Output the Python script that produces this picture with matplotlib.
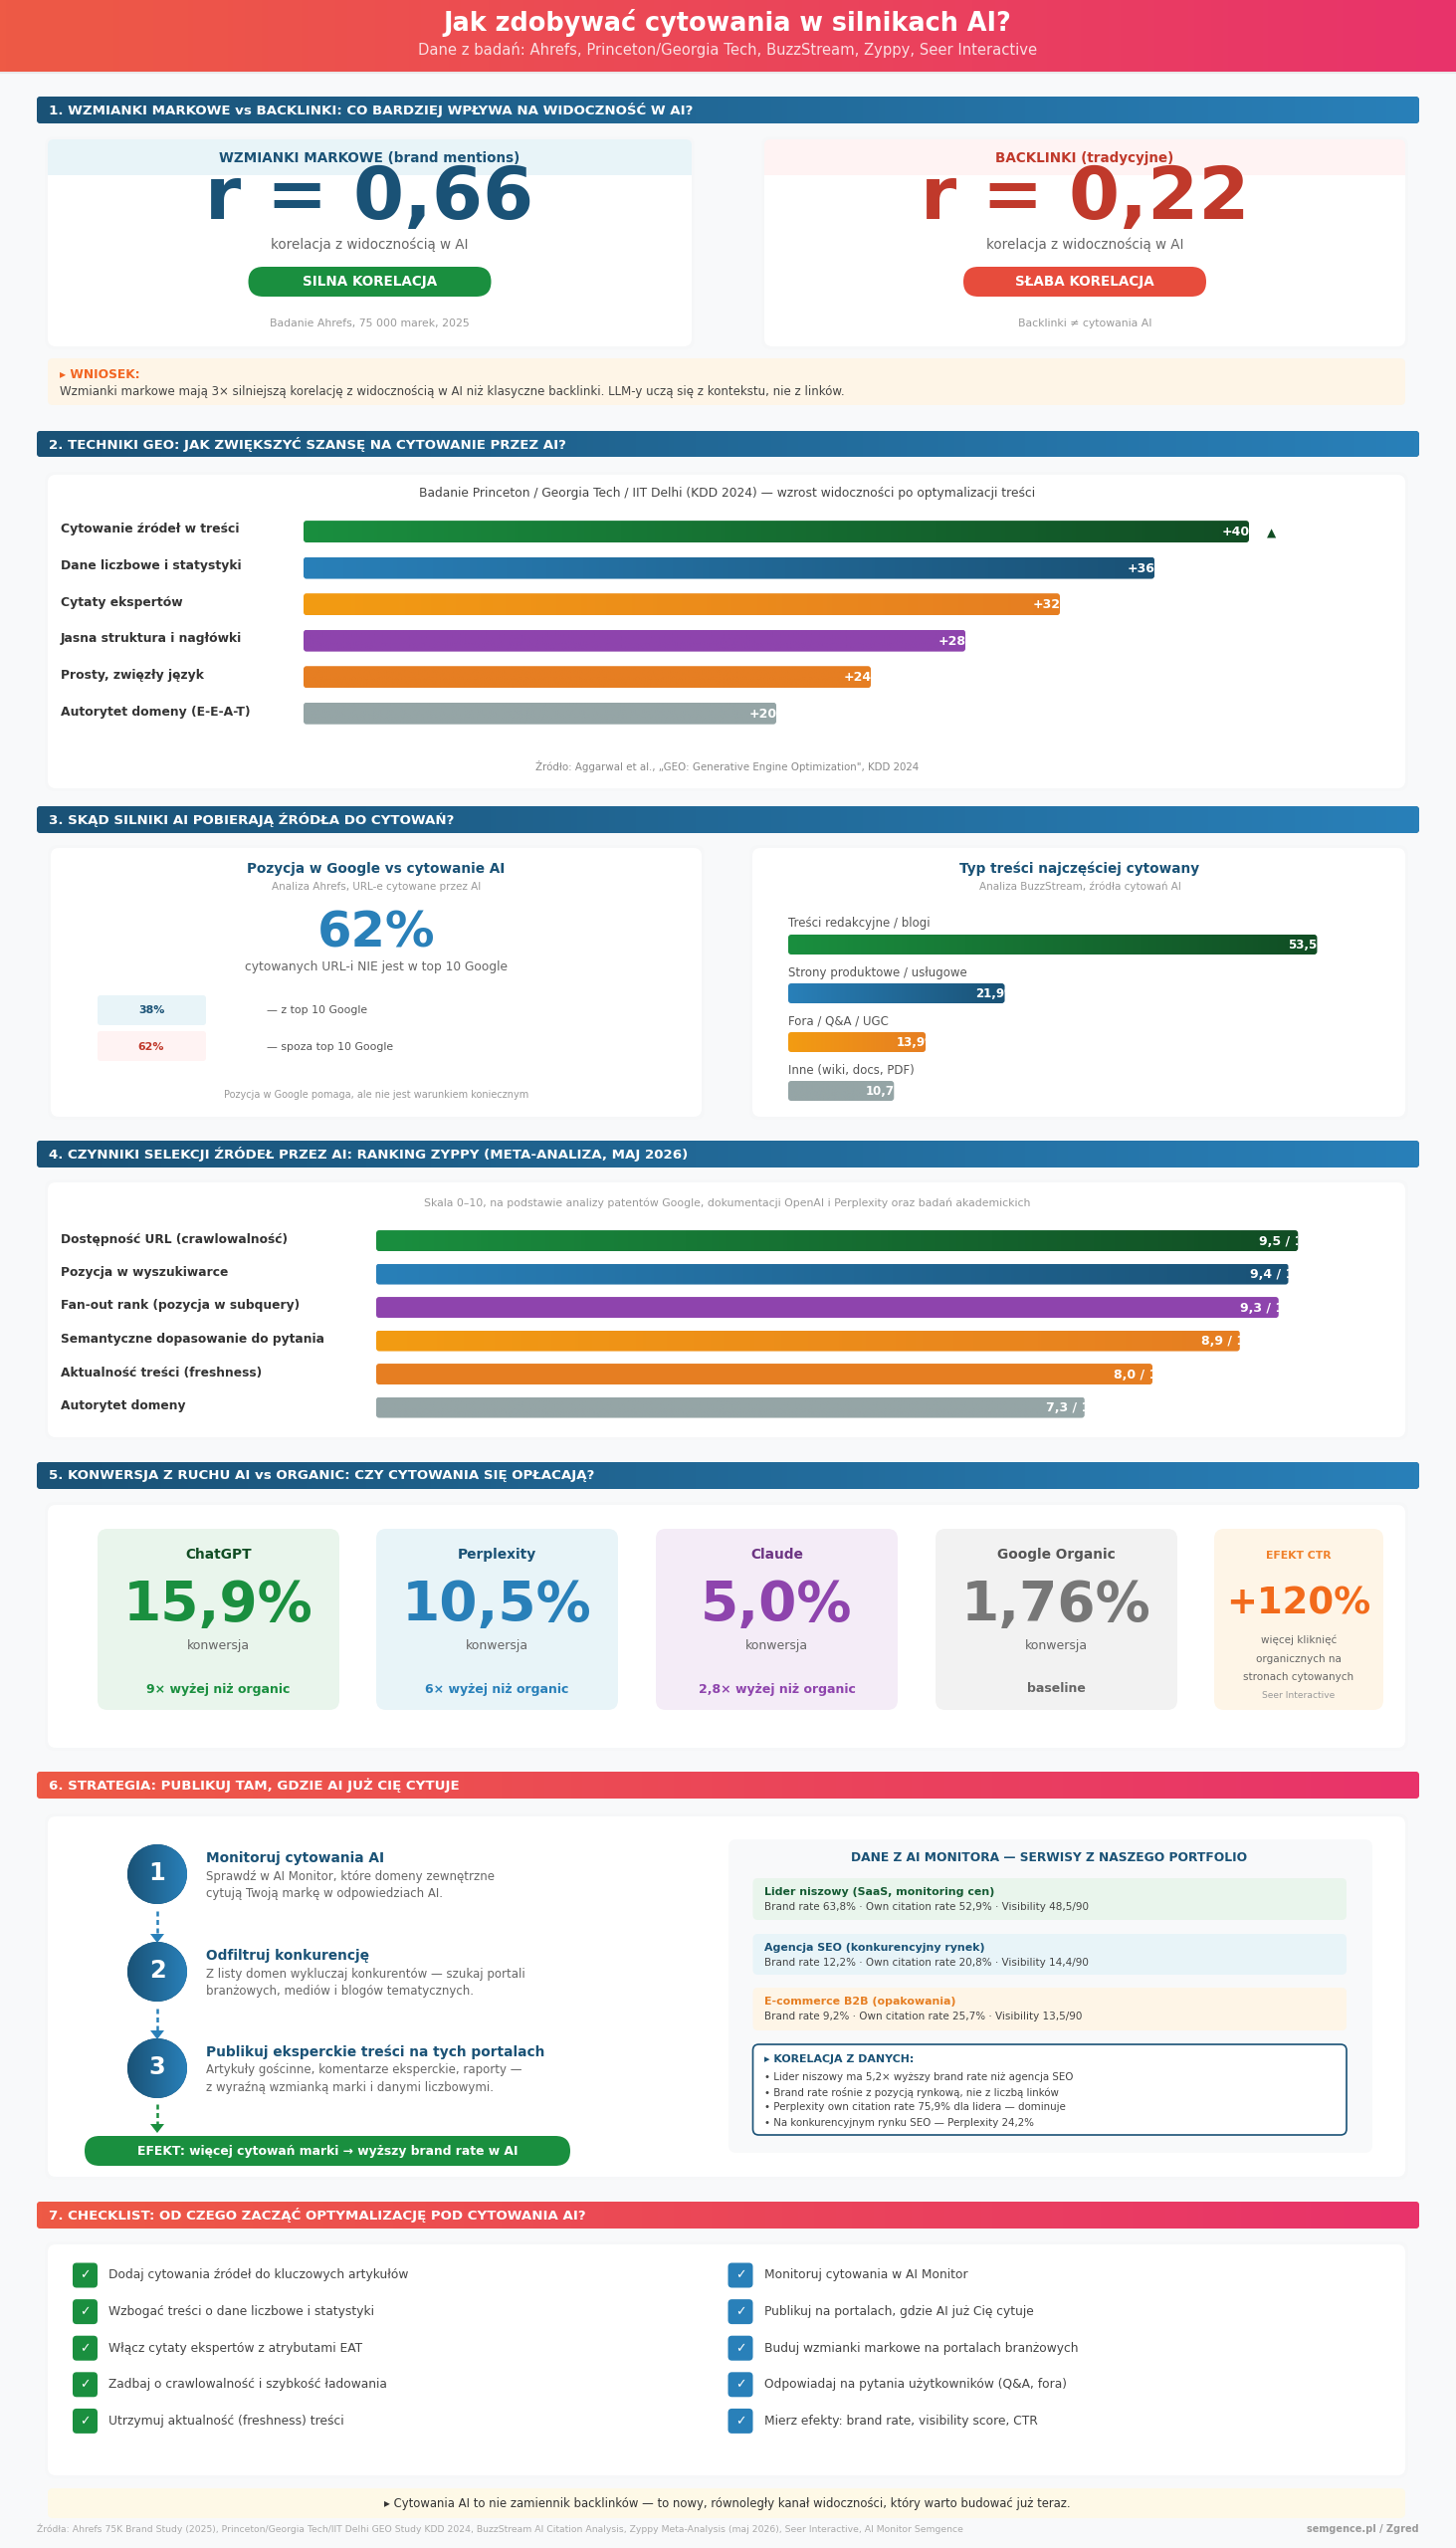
import numpy as np
import matplotlib
matplotlib.use("Agg")
import matplotlib.pyplot as plt
from matplotlib.colors import LinearSegmentedColormap
from matplotlib.patches import FancyBboxPatch, Circle, Polygon
from matplotlib.transforms import IdentityTransform

# --- data ---
geo_labels = ["Cytowanie źródeł w treści", "Dane liczbowe i statystyki", "Cytaty ekspertów",
              "Jasna struktura i nagłówki", "Prosty, zwięzły język", "Autorytet domeny (E-E-A-T)"]
geo_values = [40, 36, 32, 28, 24, 20]

content_labels = ["Treści redakcyjne / blogi", "Strony produktowe / usługowe", "Fora / Q&A / UGC", "Inne (wiki, docs, PDF)"]
content_values = [53.5, 21.9, 13.9, 10.7]

factor_labels = ["Dostępność URL (crawlowalność)", "Pozycja w wyszukiwarce", "Fan-out rank (pozycja w subquery)",
                 "Semantyczne dopasowanie do pytania", "Aktualność treści (freshness)", "Autorytet domeny"]
factor_values = [9.5, 9.4, 9.3, 8.9, 8.0, 7.3]

conv_names = ["ChatGPT", "Perplexity", "Claude", "Google Organic"]
conv_values = ["15,9%", "10,5%", "5,0%", "1,76%"]
conv_notes = ["9× wyżej niż organic", "6× wyżej niż organic", "2,8× wyżej niż organic", "baseline"]

step_titles = ["Monitoruj cytowania AI", "Odfiltruj konkurencję", "Publikuj eksperckie treści na tych portalach"]
step_texts = [["Sprawdź w AI Monitor, które domeny zewnętrzne", "cytują Twoją markę w odpowiedziach AI."],
              ["Z listy domen wykluczaj konkurentów — szukaj portali", "branżowych, mediów i blogów tematycznych."],
              ["Artykuły gościnne, komentarze eksperckie, raporty —", "z wyraźną wzmianką marki i danymi liczbowymi."]]

site_titles = ["Lider niszowy (SaaS, monitoring cen)", "Agencja SEO (konkurencyjny rynek)", "E-commerce B2B (opakowania)"]
site_stats = ["Brand rate 63,8% · Own citation rate 52,9% · Visibility 48,5/90",
              "Brand rate 12,2% · Own citation rate 20,8% · Visibility 14,4/90",
              "Brand rate 9,2% · Own citation rate 25,7% · Visibility 13,5/90"]
corr_lines = ["• Lider niszowy ma 5,2× wyższy brand rate niż agencja SEO",
              "• Brand rate rośnie z pozycją rynkową, nie z liczbą linków",
              "• Perplexity own citation rate 75,9% dla lidera — dominuje",
              "• Na konkurencyjnym rynku SEO — Perplexity 24,2%"]

check_left = ["Dodaj cytowania źródeł do kluczowych artykułów", "Wzbogać treści o dane liczbowe i statystyki",
              "Włącz cytaty ekspertów z atrybutami EAT", "Zadbaj o crawlowalność i szybkość ładowania",
              "Utrzymuj aktualność (freshness) treści"]
check_right = ["Monitoruj cytowania w AI Monitor", "Publikuj na portalach, gdzie AI już Cię cytuje",
               "Buduj wzmianki markowe na portalach branżowych", "Odpowiadaj na pytania użytkowników (Q&A, fora)",
               "Mierz efekty: brand rate, visibility score, CTR"]

# colours
NAVY, BLUE = "#1a5276", "#2980b9"
GREEN, DKGREEN = "#1a8f3f", "#114d24"
AMBER, ORANGE = "#f39c12", "#e67e22"
PURPLE, GRAY = "#8e44ad", "#95a5a6"
RED, DKRED = "#e74c3c", "#c0392b"
CORAL, PINK = "#ee5a45", "#e8336b"
CREAM = "#fef5e7"
ROSE = "#fff3f3"
BG = "#f8f9fa"
W, H = 1463, 2560

fig = plt.figure(figsize=(W / 100, H / 100), dpi=100, facecolor=BG)
# main canvas works in image pixels, y going down
main = fig.add_axes([0, 0, 1, 1])
main.set_xlim(0, W)
main.set_ylim(H, 0)
main.autoscale(False)
main.axis("off")


def txt(x, y, s, px, color, bold=False, ha="left", va="center", zorder=5):
    return main.text(x, y, s, fontsize=px * 0.72, color=color, ha=ha, va=va,
                     fontweight="bold" if bold else "normal", zorder=zorder)


def box(x0, y0, x1, y1, color, r=6, ec="none", lw=0, zorder=2):
    p = FancyBboxPatch((x0 + r, y0 + r), x1 - x0 - 2 * r, y1 - y0 - 2 * r, boxstyle=f"round,pad={r}",
                       fc=color, ec=ec, lw=lw, zorder=zorder)
    main.add_patch(p)
    return p


def card(x0, y0, x1, y1):
    # faint soft edge around the white cards
    box(x0 - 3, y0 - 3, x1 + 3, y1 + 3, "#f6f7f8", r=10, zorder=1)
    return box(x0, y0, x1, y1, "white", r=8)


def grad_box(x0, y0, x1, y1, c0, c1, r=4, zorder=3):
    p = box(x0, y0, x1, y1, c0, r=r, zorder=zorder)
    cmap = LinearSegmentedColormap.from_list("g", [c0, c1])
    im = main.imshow(np.linspace(0, 1, 256).reshape(1, -1), extent=(x0, x1, y1, y0), aspect="auto",
                     cmap=cmap, zorder=zorder + 0.1)
    im.set_clip_path(p)


def section(y0, y1, title, c0=NAVY, c1=BLUE):
    grad_box(37, y0, 1426, y1, c0, c1)
    txt(49, (y0 + y1) / 2, title, 13.4, "white", bold=True)


def bar_axes(x0, y0, x1, y1, xmax, nrows):
    ax = fig.add_axes([x0 / W, 1 - y1 / H, (x1 - x0) / W, (y1 - y0) / H])
    ax.set_xlim(0, xmax)
    ax.set_ylim(nrows - 0.5, -0.5)
    ax.autoscale(False)
    ax.axis("off")
    ax.patch.set_alpha(0)
    return ax


def draw_bars(ax, values, height, colours, labels, text_back, px=12.5):
    bars = ax.barh(range(len(values)), values, height=height, color="none")
    for bar, (c0, c1), lab in zip(bars, colours, labels):
        x0, y0, w, h = bar.get_x(), bar.get_y(), bar.get_width(), bar.get_height()
        (dx0, dy1), (dx1, dy0) = ax.transData.transform([(x0, y0), (x0 + w, y0 + h)])
        r = 3
        clip = FancyBboxPatch((dx0 + r, dy0 + r), dx1 - dx0 - 2 * r, dy1 - dy0 - 2 * r,
                              boxstyle=f"round,pad={r}", transform=IdentityTransform())
        cmap = LinearSegmentedColormap.from_list("g", [c0, c1])
        im = ax.imshow(np.linspace(0, 1, 256).reshape(1, -1), extent=(x0, x0 + w, y0 + h, y0),
                       aspect="auto", cmap=cmap, zorder=2)
        im.set_clip_path(clip)
        # the value labels run past the bar end and get cut there, as in the original
        t = ax.annotate(lab, xy=(w, y0 + h / 2), xytext=(-text_back * 0.72, -0.5), textcoords="offset points",
                        ha="left", va="center", color="white", fontweight="bold", fontsize=px * 0.72,
                        zorder=3, annotation_clip=False)
        t.set_clip_on(True)
        t.set_clip_box(bar.get_window_extent())


# --- header ---
grad_box(0, 0, W, 72, CORAL, PINK, r=0.01)
main.plot([0, W], [72.5, 72.5], color="#e9e9ea", lw=1.5, zorder=2)
txt(731, 23, "Jak zdobywać cytowania w silnikach AI?", 25.5, "white", bold=True, ha="center")
txt(731, 50, "Dane z badań: Ahrefs, Princeton/Georgia Tech, BuzzStream, Zyppy, Seer Interactive", 14.8, "#fbdfe2", ha="center")

# --- 1 ---
section(97, 124, "1. WZMIANKI MARKOWE vs BACKLINKI: CO BARDZIEJ WPŁYWA NA WIDOCZNOŚĆ W AI?")
cards1 = [(48, 695, "#e8f4f8", NAVY, "WZMIANKI MARKOWE (brand mentions)", "r = 0,66", GREEN, "SILNA KORELACJA", "Badanie Ahrefs, 75 000 marek, 2025"),
          (768, 1412, ROSE, DKRED, "BACKLINKI (tradycyjne)", "r = 0,22", RED, "SŁABA KORELACJA", "Backlinki ≠ cytowania AI")]
for x0, x1, band, col, head, rval, pill, verdict, note in cards1:
    cx = (x0 + x1) / 2
    card(x0, 140, x1, 348)
    box(x0, 140, x1, 176, band, r=6, zorder=2.5)
    main.add_patch(plt.Rectangle((x0, 168), x1 - x0, 8, fc=band, ec="none", zorder=2.5))
    txt(cx, 159, head, 13.5, col, bold=True, ha="center")
    txt(cx, 220, rval, 73.5, col, bold=True, ha="center", va="baseline")
    txt(cx, 246, "korelacja z widocznością w AI", 13.5, "#666666", ha="center")
    box(cx - 122, 268, cx + 122, 298, pill, r=15, zorder=3)
    txt(cx, 283, verdict, 13.5, "white", bold=True, ha="center")
    txt(cx, 325, note, 10.9, "#999999", ha="center")

box(48, 360, 1412, 407, CREAM, r=5)
txt(60, 376, "▸ WNIOSEK:", 12.3, "#f26522", bold=True)
txt(60, 394, "Wzmianki markowe mają 3× silniejszą korelację z widocznością w AI niż klasyczne backlinki. LLM-y uczą się z kontekstu, nie z linków.", 11.7, "#444444")

# --- 2 ---
section(433, 459, "2. TECHNIKI GEO: JAK ZWIĘKSZYĆ SZANSĘ NA CYTOWANIE PRZEZ AI?")
card(48, 477, 1412, 792)
txt(731, 496, "Badanie Princeton / Georgia Tech / IIT Delhi (KDD 2024) — wzrost widoczności po optymalizacji treści", 12.3, "#444444", ha="center")
geo_colours = [(GREEN, DKGREEN), (BLUE, NAVY), (AMBER, ORANGE), (PURPLE, PURPLE), (ORANGE, ORANGE), (GRAY, GRAY)]
for i, lab in enumerate(geo_labels):
    txt(61, 532 + i * 36.6, lab, 12.4, "#333333", bold=True)
ax_geo = bar_axes(305, 515.8, 1255, 735, 40, 6)
draw_bars(ax_geo, geo_values, 0.6, geo_colours, [f"+{v}%" for v in geo_values], 27)
txt(1278, 536, "▲", 12, DKGREEN, ha="center")
txt(731, 770, "Źródło: Aggarwal et al., „GEO: Generative Engine Optimization\", KDD 2024", 10.3, "#888888", ha="center")

# --- 3 ---
section(810, 837, "3. SKĄD SILNIKI AI POBIERAJĄ ŹRÓDŁA DO CYTOWAŃ?")
card(51, 852, 705, 1122)
card(756, 852, 1412, 1122)
txt(378, 873, "Pozycja w Google vs cytowanie AI", 13.6, NAVY, bold=True, ha="center")
txt(378, 891, "Analiza Ahrefs, URL-e cytowane przez AI", 10.4, "#999999", ha="center")
txt(378, 952, "62%", 49.5, BLUE, bold=True, ha="center", va="baseline")
txt(378, 971, "cytowanych URL-i NIE jest w top 10 Google", 12.3, "#666666", ha="center")
box(98, 1000, 207, 1030, "#e8f4f8", r=3)
box(98, 1036, 207, 1066, ROSE, r=3)
txt(152, 1015, "38%", 11, NAVY, bold=True, ha="center")
txt(152, 1052, "62%", 11, DKRED, bold=True, ha="center")
txt(268, 1015, "— z top 10 Google", 10.9, "#555555")
txt(268, 1052, "— spoza top 10 Google", 10.9, "#555555")
txt(378, 1100, "Pozycja w Google pomaga, ale nie jest warunkiem koniecznym", 9.8, "#999999", ha="center")

txt(1085, 873, "Typ treści najczęściej cytowany", 13.6, NAVY, bold=True, ha="center")
txt(1085, 891, "Analiza BuzzStream, źródła cytowań AI", 10.4, "#999999", ha="center")
for i, lab in enumerate(content_labels):
    txt(792, 928 + i * 49, lab, 11.8, "#555555")
content_colours = [(GREEN, DKGREEN), (BLUE, NAVY), (AMBER, ORANGE), (GRAY, GRAY)]
ax_content = bar_axes(792, 924.5, 1388, 1120.5, 60, 4)
draw_bars(ax_content, content_values, 20 / 49, content_colours,
          [f"{v}%".replace(".", ",") for v in content_values], 29, px=11.8)

# --- 4 ---
section(1146, 1173, "4. CZYNNIKI SELEKCJI ŹRÓDEŁ PRZEZ AI: RANKING ZYPPY (META-ANALIZA, MAJ 2026)")
card(48, 1188, 1412, 1444)
txt(731, 1209, "Skala 0–10, na podstawie analizy patentów Google, dokumentacji OpenAI i Perplexity oraz badań akademickich", 10.9, "#999999", ha="center")
factor_colours = [(GREEN, DKGREEN), (BLUE, NAVY), (PURPLE, PURPLE), (AMBER, ORANGE), (ORANGE, ORANGE), (GRAY, GRAY)]
for i, lab in enumerate(factor_labels):
    txt(61, 1245 + i * 33.5, lab, 12.3, "#333333", bold=True)
ax_factor = bar_axes(378, 1229.8, 1353, 1430.8, 10, 6)
draw_bars(ax_factor, factor_values, 21 / 33.5, factor_colours,
          [f"{v} / 10".replace(".", ",") for v in factor_values], 39)

# --- 5 ---
section(1469, 1496, "5. KONWERSJA Z RUCHU AI vs ORGANIC: CZY CYTOWANIA SIĘ OPŁACAJĄ?")
card(48, 1512, 1412, 1756)
conv_x = [98, 378, 659, 940]
conv_bg = ["#e9f5ec", "#e8f4f8", "#f4ecf7", "#f2f2f2"]
conv_fg = [GREEN, BLUE, PURPLE, "#777777"]
conv_head = [DKGREEN, NAVY, "#6c3483", "#555555"]
for x0, name, val, note, bg, fg, hd in zip(conv_x, conv_names, conv_values, conv_notes, conv_bg, conv_fg, conv_head):
    cx = x0 + 121.5
    box(x0, 1536, x0 + 243, 1718, bg, r=10)
    txt(cx, 1562, name, 13.8, hd, bold=True, ha="center")
    txt(cx, 1628, val, 55, fg, bold=True, ha="center", va="baseline")
    txt(cx, 1654, "konwersja", 12.5, "#666666", ha="center")
    txt(cx, 1697, note, 12.5, fg if fg != "#777777" else "#666666", bold=True, ha="center")
box(1220, 1536, 1390, 1718, CREAM, r=10)
txt(1305, 1563, "EFEKT CTR", 10.9, "#f0802a", bold=True, ha="center")
txt(1305, 1622, "+120%", 37, "#f26a1b", bold=True, ha="center", va="baseline")
for y, line in zip([1648, 1667, 1685], ["więcej kliknięć", "organicznych na", "stronach cytowanych"]):
    txt(1305, y, line, 10.4, "#666666", ha="center")
txt(1305, 1703, "Seer Interactive", 9.2, "#999999", ha="center")

# --- 6 ---
section(1780, 1807, "6. STRATEGIA: PUBLIKUJ TAM, GDZIE AI JUŻ CIĘ CYTUJE", CORAL, PINK)
card(48, 1825, 1412, 2187)
step_y = [1883, 1981, 2078]
for n, (cy, title, lines) in enumerate(zip(step_y, step_titles, step_texts), start=1):
    c = Circle((158, cy), 30, fc=NAVY, ec="none", zorder=3)
    main.add_patch(c)
    cmap = LinearSegmentedColormap.from_list("g", [NAVY, BLUE])
    im = main.imshow(np.linspace(0, 1, 128).reshape(1, -1), extent=(128, 188, cy + 30, cy - 30), aspect="auto", cmap=cmap, zorder=3.1)
    im.set_clip_path(c)
    txt(158, cy - 1, str(n), 24, "white", bold=True, ha="center")
    txt(207, cy - 16, title, 13.7, NAVY, bold=True)
    txt(207, cy + 2, lines[0], 11.7, "#666666")
    txt(207, cy + 19.5, lines[1], 11.7, "#666666")
for y0, y1, col in [(1920, 1943, BLUE), (2018, 2040, BLUE), (2114, 2134, GREEN)]:
    main.plot([158, 158], [y0, y1], color=col, lw=1.8, ls=(0, (2, 1.4)), zorder=3)
    main.add_patch(Polygon([(151, y1), (165, y1), (158, y1 + 9)], fc=col, ec="none", zorder=3))
box(85, 2146, 573, 2176, GREEN, r=15, zorder=3)
txt(329, 2161, "EFEKT: więcej cytowań marki → wyższy brand rate w AI", 12.4, "white", bold=True, ha="center")

box(732, 1848, 1379, 2163, "#f8f9fa", r=8, zorder=2.2)
txt(1054, 1867, "DANE Z AI MONITORA — SERWISY Z NASZEGO PORTFOLIO", 12.2, NAVY, bold=True, ha="center")
site_boxes = [(1887, 1929, "#e9f5ec", "#145a32"), (1943, 1984, "#e8f4f8", NAVY), (1997, 2040, CREAM, ORANGE)]
for (y0, y1, bg, col), title, stats in zip(site_boxes, site_titles, site_stats):
    box(756.5, y0, 1353, y1, bg, r=5, zorder=2.5)
    txt(768, y0 + 14, title, 11, col, bold=True)
    txt(768, y0 + 29, stats, 10.4, "#444444")
box(756.5, 2054, 1353, 2145, "white", r=6, ec=NAVY, lw=1.2, zorder=2.5)
txt(768, 2069, "▸ KORELACJA Z DANYCH:", 11, NAVY, bold=True)
for i, line in enumerate(corr_lines):
    txt(768, 2087 + i * 15.2, line, 10.3, "#444444")

# --- 7 ---
section(2212, 2239, "7. CHECKLIST: OD CZEGO ZACZĄĆ OPTYMALIZACJĘ POD CYTOWANIA AI?", CORAL, PINK)
card(48, 2255, 1412, 2487)
for items, bx, tx, col in [(check_left, 73, 109, GREEN), (check_right, 731.5, 768, BLUE)]:
    for i, item in enumerate(items):
        cy = 2286 + i * 36.6
        box(bx, cy - 12.5, bx + 25, cy + 12.5, col, r=4, zorder=3)
        txt(bx + 12.5, cy, "✓", 12.5, "white", bold=True, ha="center")
        txt(tx, cy, item, 12.3, "#444444")

box(48, 2500, 1412, 2530, "#fef9e7", r=5)
txt(731, 2515, "▸ Cytowania AI to nie zamiennik backlinków — to nowy, równoległy kanał widoczności, który warto budować już teraz.", 11.6, "#333333", ha="center")
txt(37, 2541, "Źródła: Ahrefs 75K Brand Study (2025), Princeton/Georgia Tech/IIT Delhi GEO Study KDD 2024, BuzzStream AI Citation Analysis, Zyppy Meta-Analysis (maj 2026), Seer Interactive, AI Monitor Semgence", 9.3, "#aaaaaa")
txt(1426, 2541, "semgence.pl / Zgred", 9.8, "#999999", bold=True, ha="right")

fig.savefig("out.png", dpi=100, facecolor=BG)
